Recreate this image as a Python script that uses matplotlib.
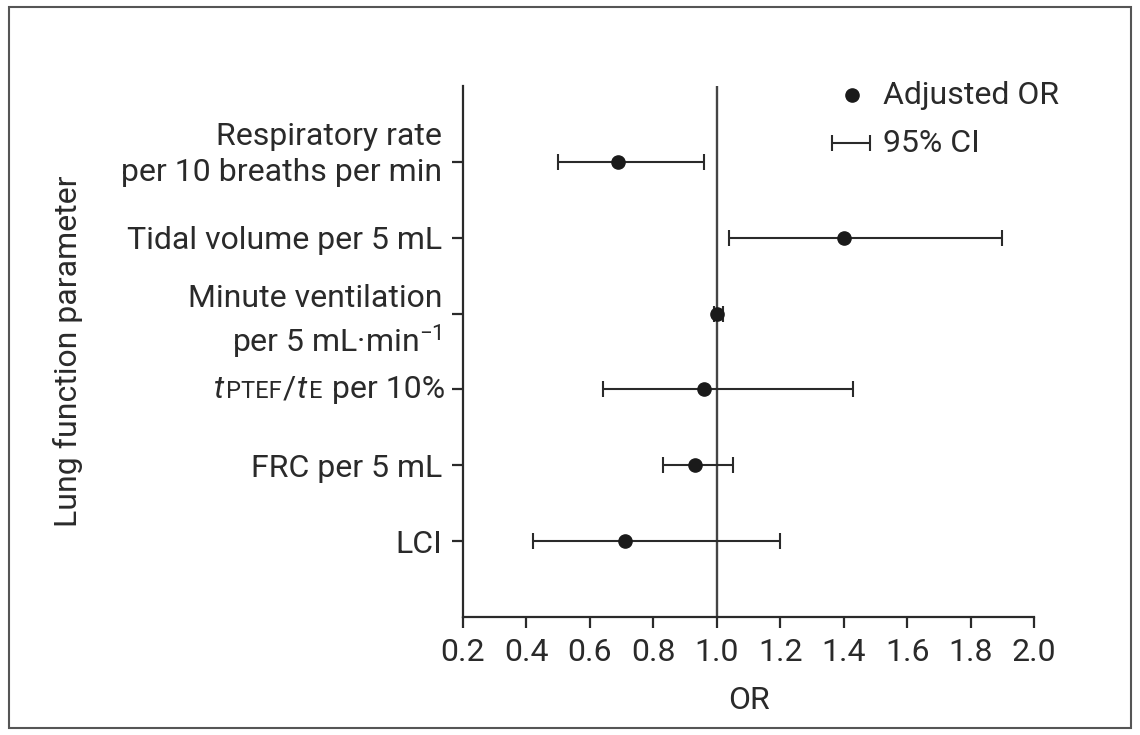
import matplotlib as mpl
import matplotlib.pyplot as plt
from matplotlib.offsetbox import AnnotationBbox, HPacker, TextArea
from matplotlib.patches import Rectangle
from matplotlib.transforms import ScaledTranslation

mpl.rcParams.update({
    "font.family": ["Roboto", "DejaVu Sans"],
    "font.size": 23,
    "mathtext.fontset": "custom",
    "mathtext.rm": "Roboto",
    "mathtext.it": "Roboto:italic",
})

# Odds ratios with 95% CI for each lung function parameter (top to bottom)
parameters = [
    "Respiratory rate\nper 10 breaths per min",
    "Tidal volume per 5 mL",
    "Minute ventilation\nper 5 mL·min$^{-1}$",
    "",  # tPTEF/tE label is assembled below (small caps pieces)
    "FRC per 5 mL",
    "LCI",
]
odds_ratio = [0.69, 1.40, 1.00, 0.96, 0.93, 0.71]
ci_low = [0.50, 1.04, 0.99, 0.64, 0.83, 0.42]
ci_high = [0.96, 1.90, 1.02, 1.43, 1.05, 1.20]
or_ticks = [0.2, 0.4, 0.6, 0.8, 1.0, 1.2, 1.4, 1.6, 1.8, 2.0]

ink = "#2a2a2a"

fig = plt.figure(figsize=(11.4, 7.35), dpi=100)
ax = fig.add_axes([463 / 1140, 1 - 617 / 735, (1034 - 463) / 1140, (617 - 86) / 735])

n = len(parameters)
ypos = list(range(n, 0, -1))
xerr = [[o - lo for o, lo in zip(odds_ratio, ci_low)],
        [hi - o for o, hi in zip(odds_ratio, ci_high)]]

ax.axvline(1.0, color="#444444", lw=1.7, zorder=1)
ax.errorbar(odds_ratio, ypos, xerr=xerr, fmt="o", color="#1a1a1a", ms=9.5,
            ecolor=ink, elinewidth=1.5, capsize=6, capthick=1.5, zorder=3)

ax.set_xlim(0.2, 2.0)
ax.set_ylim(0, n + 1)
ax.set_xticks(or_ticks)
ax.set_xticklabels([f"{t:.1f}" for t in or_ticks])
ax.set_yticks(ypos)
ax.set_yticklabels(parameters, ha="right", multialignment="right",
                   linespacing=1.3)
ax.tick_params(axis="both", direction="out", length=8, width=1.6, color=ink,
               labelcolor=ink, pad=7)

# the respiratory rate label sits a little above its tick
first = ax.get_yticklabels()[0]
first.set_transform(first.get_transform()
                    + ScaledTranslation(0, 14 / 100, fig.dpi_scale_trans))

# tPTEF/tE with italic t and small-cap subscripts
small = dict(color=ink, fontsize=17)
big = dict(color=ink, fontsize=23)
pieces = [
    TextArea("t", textprops=dict(big, style="italic")),
    TextArea("PTEF", textprops=small),
    TextArea("/", textprops=big),
    TextArea("t", textprops=dict(big, style="italic")),
    TextArea("E", textprops=small),
    TextArea(" per 10%", textprops=big),
]
label_box = HPacker(children=pieces, align="baseline", pad=0, sep=1)
ab = AnnotationBbox(label_box, (0, ypos[3]), xycoords=ax.get_yaxis_transform(),
                    xybox=(-13, 0), boxcoords="offset points",
                    box_alignment=(1, 0.5), frameon=False, annotation_clip=False)
ax.add_artist(ab)

for side in ("top", "right"):
    ax.spines[side].set_visible(False)
for side in ("left", "bottom"):
    ax.spines[side].set_linewidth(1.6)
    ax.spines[side].set_color(ink)

ax.set_xlabel("OR", color=ink)
ax.xaxis.set_label_coords(0.5, -0.13)
ax.set_ylabel("Lung function parameter", color=ink)
ax.yaxis.set_label_coords(-0.665, 0.5)

# key in the upper right corner
ax.plot([1.426], [6.88], "o", color="#1a1a1a", ms=9.5, clip_on=False)
ax.text(1.524, 6.88, "Adjusted OR", va="center", ha="left", color=ink)
ax.errorbar([1.423], [6.245], xerr=[[0.06], [0.06]], fmt="none", ecolor=ink,
            elinewidth=1.5, capsize=6, capthick=1.5, clip_on=False)
ax.text(1.524, 6.245, "95% CI", va="center", ha="left", color=ink)

# thin frame around the whole figure
fig.patches.append(Rectangle((9 / 1140, 7 / 735), 1122 / 1140, 721 / 735,
                             transform=fig.transFigure, fill=False,
                             edgecolor="#555555", lw=1.5))

fig.savefig("out.png", dpi=100)
